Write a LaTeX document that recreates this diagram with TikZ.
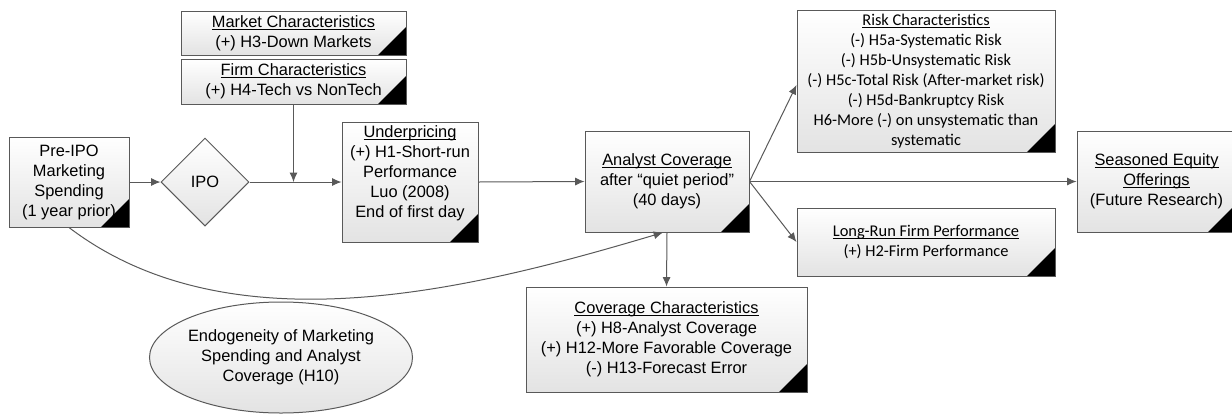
\documentclass[tikz,border=0pt]{standalone}
\usepackage{fontspec}
\setmainfont{Liberation Sans}
\newfontfamily\calib{Carlito}
\usetikzlibrary{shapes,arrows.meta}
\newcommand{\Head}[1]{\underline{\raisebox{0pt}[\height][0pt]{#1}}}
\tikzset{
  box/.style={draw=black!65, line width=0.75pt, top color=white, bottom color=black!11,
    align=center, inner sep=2pt, font=\fontsize{12.3}{15}\selectfont,
    path picture={\fill[black] (path picture bounding box.south east) -- ++(-21pt,0) -- ++(21pt,21pt) -- cycle;}},
  calbox/.style={box, font=\calib\fontsize{12.3}{15}\selectfont},
  flow/.style={draw=black!65, line width=0.75pt, ->},
}

\begin{document}
\begin{tikzpicture}[>={Latex[length=7pt,width=6pt]}, x=0.75pt, y=-0.75pt]
    \useasboundingbox (0,0) rectangle (1232,415);

    \draw(293.5,33) node[box, minimum width=168.75pt, minimum height=33pt] (Market) {\Head{Market Characteristics}\\(+) H3-Down Markets};
    \draw(293.5,81.5) node[box, minimum width=168.75pt, minimum height=33.75pt] (Firm) {\Head{Firm Characteristics}\\(+) H4-Tech vs NonTech};
    \draw(69,182) node[box, minimum width=90pt, minimum height=67.5pt] (Pre) {Pre-IPO\\Marketing\\Spending\\(1 year prior)};
    \draw(205,182) node[draw=black!65, line width=0.75pt, diamond, aspect=1, top color=white, bottom color=black!11, minimum width=66pt, minimum height=66pt, inner sep=0pt, font=\fontsize{12.3}{15}\selectfont] (IPO) {IPO};
    \draw(410,182) node[box, minimum width=102pt, minimum height=90pt] (Under) {\Head{Underpricing}\\(+) H1-Short-run\\Performance\\Luo (2008)\\End of first day\\[-4pt]\strut};
    \draw(667,181.5) node[box, minimum width=123pt, minimum height=75.75pt] (Analyst) {\Head{Analyst Coverage}\\after “quiet period”\\(40 days)};
    \draw(926,81) node[calbox, minimum width=193.5pt, minimum height=106.5pt] (Risk) {\Head{Risk Characteristics}\\(-) H5a-Systematic Risk\\(-) H5b-Unsystematic Risk\\(-) H5c-Total Risk (After-market risk)\\(-) H5d-Bankruptcy Risk\\H6-More (-) on unsystematic than\\systematic};
    \draw(926,242) node[calbox, minimum width=193.5pt, minimum height=51pt] (Long) {\Head{Long-Run Firm Performance}\\(+) H2-Firm Performance};
    \draw(1156.5,181.5) node[box, minimum width=119.25pt, minimum height=75.75pt] (SEO) {\Head{Seasoned Equity}\\\Head{Offerings}\\(Future Research)};
    \draw(666.5,339.5) node[box, minimum width=210.75pt, minimum height=78.75pt] (Cov) {\Head{Coverage Characteristics}\\(+) H8-Analyst Coverage\\(+) H12-More Favorable Coverage\\(-) H13-Forecast Error};
    \draw(281,357.5) node[draw=black!65, line width=0.75pt, ellipse, top color=white, bottom color=black!11, minimum width=181.5pt, minimum height=83.25pt, inner sep=0pt, align=center, font=\fontsize{12.3}{15}\selectfont] (Endo) {Endogeneity of Marketing\\Spending and Analyst\\Coverage (H10)};

    \coordinate (J) at (Firm.south |- IPO.east);
    \draw[flow] (Pre.east) -- (IPO.west);
    \draw[flow] (IPO.east) -- (Under.west);
    \draw[flow] (Firm.south) -- (J);
    \draw[flow] (Under.east) -- (Analyst.west);
    \draw[flow] (Analyst.east) -- ([yshift=-3pt]Risk.west);
    \draw[flow] (Analyst.east) -- (Long.west);
    \draw[flow] (Analyst.east) -- (SEO.west);
    \draw[flow] (Analyst.south) -- (Cov.north);
    \draw[flow] (Pre.south) .. controls (230,350) and (470,290) .. ([xshift=-3pt]Analyst.south);

    \end{tikzpicture}
\end{document}
